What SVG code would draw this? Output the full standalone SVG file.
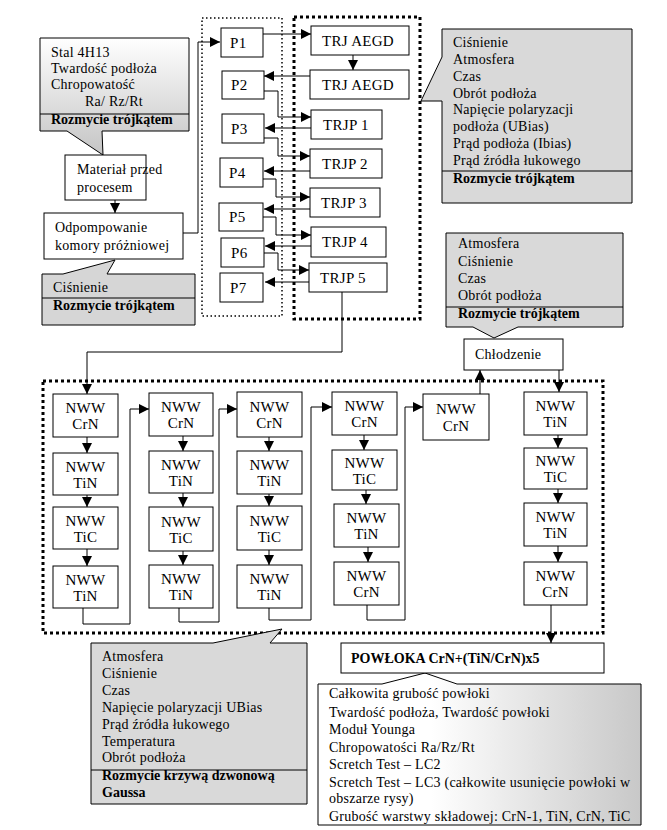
<svg xmlns="http://www.w3.org/2000/svg" width="667" height="830" viewBox="0 0 667 830">
<style>
.t{font-family:"Liberation Serif","Times New Roman",serif;font-size:14px;fill:#000;letter-spacing:0.25px}
.n{font-family:"Liberation Serif","Times New Roman",serif;font-size:15px;fill:#000;letter-spacing:0.3px}
.c{text-anchor:middle}
.b{font-weight:bold;letter-spacing:0}
.box{fill:#fff;stroke:#000;stroke-width:1}
.cl{stroke:#000;stroke-width:1}
.g{fill:#d9d9d9}
.sep{stroke:#000;stroke-width:1;fill:none}
.con{fill:none;stroke:#000;stroke-width:1;marker-end:url(#ah)}
.dotS{fill:none;stroke:#000;stroke-width:1.5;stroke-dasharray:1.5 2.5}
.dotL{fill:none;stroke:#000;stroke-width:3;stroke-dasharray:3 3}
</style>
<defs>
<marker id="ah" markerUnits="userSpaceOnUse" markerWidth="10" markerHeight="10" refX="10" refY="5" orient="auto">
<path d="M0,0 L10,5 L0,10 Z" fill="#000"/>
</marker>
<linearGradient id="gv" x1="0" y1="0" x2="0" y2="1">
<stop offset="0" stop-color="#ffffff"/>
<stop offset="1" stop-color="#c4c4c4"/>
</linearGradient>
<linearGradient id="gh" x1="0" y1="0" x2="1" y2="0">
<stop offset="0.35" stop-color="#ffffff"/>
<stop offset="1" stop-color="#c8c8c8"/>
</linearGradient>
</defs>
<rect width="667" height="830" fill="#fff"/>

<g id="groups">
<rect class="dotS" x="202" y="18" width="80" height="298"/>
<rect class="dotL" x="294" y="17" width="126" height="302"/>
<rect class="dotL" x="43" y="381" width="560" height="252"/>
</g>

<g id="callout-stal">
<path class="cl" fill="url(#gv)" d="M40,38 H189 V131 H102 L103,155 L67,131 H40 Z"/>
<line class="sep" x1="40" y1="114" x2="189" y2="114"/>
<text class="t" x="51" y="57">Stal 4H13</text>
<text class="t" x="51" y="73">Twardość podłoża</text>
<text class="t" x="51" y="89">Chropowatość</text>
<text class="t" x="85" y="106">Ra/ Rz/Rt</text>
<text class="t b" x="51" y="124">Rozmycie trójkątem</text>
</g>
<g id="callout-cisnienie">
<path class="cl" fill="#d6d6d6" d="M42,274 H63 L115,260 L107,274 H195 V325 H42 Z"/>
<line class="sep" x1="42" y1="298" x2="195" y2="298"/>
<text class="t" x="53" y="292">Ciśnienie</text>
<text class="t b" x="53" y="310">Rozmycie trójkątem</text>
</g>
<g id="callout-trj">
<path class="cl g" d="M442,29 H632 V203 H442 V101 L421,101 L442,57 Z"/>
<line class="sep" x1="442" y1="171" x2="632" y2="171"/>
<text class="t" x="453" y="47">Ciśnienie</text>
<text class="t" x="453" y="64">Atmosfera</text>
<text class="t" x="453" y="81">Czas</text>
<text class="t" x="453" y="98">Obrót podłoża</text>
<text class="t" x="453" y="114">Napięcie polaryzacji</text>
<text class="t" x="453" y="131">podłoża (UBias)</text>
<text class="t" x="453" y="148">Prąd podłoża (Ibias)</text>
<text class="t" x="453" y="165">Prąd źródła łukowego</text>
<text class="t b" x="453" y="183">Rozmycie trójkątem</text>
</g>
<g id="callout-chlodzenie">
<path class="cl g" d="M446,233 H623 V327 H518 L494,338 L473,327 H446 Z"/>
<line class="sep" x1="446" y1="307" x2="623" y2="307"/>
<text class="t" x="458" y="248">Atmosfera</text>
<text class="t" x="458" y="266">Ciśnienie</text>
<text class="t" x="458" y="283">Czas</text>
<text class="t" x="458" y="300">Obrót podłoża</text>
<text class="t b" x="458" y="318">Rozmycie trójkątem</text>
</g>
<g id="callout-nww">
<path class="cl g" d="M91,643 H213 L282,629 L270,643 H307 V804 H91 Z"/>
<line class="sep" x1="91" y1="770" x2="307" y2="770"/>
<text class="t" x="102" y="661">Atmosfera</text>
<text class="t" x="102" y="678">Ciśnienie</text>
<text class="t" x="102" y="695">Czas</text>
<text class="t" x="102" y="712">Napięcie polaryzacji UBias</text>
<text class="t" x="102" y="729">Prąd źródła łukowego</text>
<text class="t" x="102" y="746">Temperatura</text>
<text class="t" x="102" y="762">Obrót podłoża</text>
<text class="t b" x="102" y="780">Rozmycie krzywą dzwonową</text>
<text class="t b" x="102" y="797">Gaussa</text>
</g>
<g id="callout-powloka">
<path class="cl" fill="url(#gh)" d="M318,684 H382 L425,673 L457,684 H641 V825 H318 Z"/>
<text class="t" x="329" y="698">Całkowita grubość powłoki</text>
<text class="t" x="329" y="717">Twardość podłoża, Twardość powłoki</text>
<text class="t" x="329" y="734">Moduł Younga</text>
<text class="t" x="329" y="752">Chropowatości Ra/Rz/Rt</text>
<text class="t" x="329" y="769">Scretch Test – LC2</text>
<text class="t" x="329" y="787">Scretch Test – LC3 (całkowite usunięcie powłoki w</text>
<text class="t" x="329" y="803">obszarze rysy)</text>
<text class="t" x="329" y="821">Grubość warstwy składowej: CrN-1, TiN, CrN, TiC</text>
</g>

<g id="material"><rect class="box" x="65" y="155" width="81" height="45"/>
<text class="t" x="77" y="174">Materiał przed</text><text class="t" x="77" y="192">procesem</text></g>
<g id="odpompowanie"><rect class="box" x="44" y="213" width="139" height="46"/>
<text class="t" x="55" y="232">Odpompowanie</text><text class="t" x="55" y="250">komory próżniowej</text></g>

<g id="p1"><rect class="box" x="221" y="28" width="42" height="29"/><text class="n" x="230" y="48">P1</text></g>
<g id="p2"><rect class="box" x="222" y="71" width="42" height="28"/><text class="n" x="231" y="90">P2</text></g>
<g id="p3"><rect class="box" x="222" y="114" width="42" height="29"/><text class="n" x="231" y="134">P3</text></g>
<g id="p4"><rect class="box" x="220" y="158" width="43" height="29"/><text class="n" x="229" y="178">P4</text></g>
<g id="p5"><rect class="box" x="219" y="203" width="44" height="28"/><text class="n" x="229" y="222">P5</text></g>
<g id="p6"><rect class="box" x="221" y="238" width="43" height="29"/><text class="n" x="231" y="258">P6</text></g>
<g id="p7"><rect class="box" x="220" y="273" width="43" height="29"/><text class="n" x="230" y="293">P7</text></g>

<g id="trj1"><rect class="box" x="311" y="26" width="98" height="29"/><text class="n" x="322" y="46">TRJ AEGD</text></g>
<g id="trj2"><rect class="box" x="310" y="70" width="99" height="29"/><text class="n" x="322" y="90">TRJ AEGD</text></g>
<g id="trjp1"><rect class="box" x="311" y="110" width="71" height="29"/><text class="n" x="323" y="130">TRJP 1</text></g>
<g id="trjp2"><rect class="box" x="310" y="149" width="72" height="29"/><text class="n" x="322" y="169">TRJP 2</text></g>
<g id="trjp3"><rect class="box" x="310" y="188" width="70" height="29"/><text class="n" x="321" y="208">TRJP 3</text></g>
<g id="trjp4"><rect class="box" x="311" y="227" width="75" height="30"/><text class="n" x="322" y="247">TRJP 4</text></g>
<g id="trjp5"><rect class="box" x="309" y="263" width="78" height="29"/><text class="n" x="320" y="283">TRJP 5</text></g>

<g id="c1a"><rect class="box" x="53" y="394" width="65" height="43"/><text class="n c" x="85.5" y="413">NWW</text><text class="n c" x="85.5" y="429">CrN</text></g>
<g id="c1b"><rect class="box" x="53" y="453" width="65" height="42"/><text class="n c" x="85.5" y="472">NWW</text><text class="n c" x="85.5" y="488">TiN</text></g>
<g id="c1c"><rect class="box" x="53" y="507" width="65" height="42"/><text class="n c" x="85.5" y="526">NWW</text><text class="n c" x="85.5" y="542">TiC</text></g>
<g id="c1d"><rect class="box" x="53" y="566" width="65" height="42"/><text class="n c" x="85.5" y="585">NWW</text><text class="n c" x="85.5" y="601">TiN</text></g>
<g id="c2a"><rect class="box" x="149" y="393" width="64" height="43"/><text class="n c" x="181" y="412">NWW</text><text class="n c" x="181" y="428">CrN</text></g>
<g id="c2b"><rect class="box" x="149" y="451" width="64" height="42"/><text class="n c" x="181" y="470">NWW</text><text class="n c" x="181" y="486">TiN</text></g>
<g id="c2c"><rect class="box" x="149" y="507" width="64" height="44"/><text class="n c" x="181" y="527">NWW</text><text class="n c" x="181" y="543">TiC</text></g>
<g id="c2d"><rect class="box" x="149" y="565" width="64" height="43"/><text class="n c" x="181" y="584">NWW</text><text class="n c" x="181" y="600">TiN</text></g>
<g id="c3a"><rect class="box" x="237" y="392" width="65" height="45"/><text class="n c" x="269.5" y="412">NWW</text><text class="n c" x="269.5" y="428">CrN</text></g>
<g id="c3b"><rect class="box" x="237" y="451" width="65" height="43"/><text class="n c" x="269.5" y="470">NWW</text><text class="n c" x="269.5" y="486">TiN</text></g>
<g id="c3c"><rect class="box" x="237" y="506" width="65" height="44"/><text class="n c" x="269.5" y="526">NWW</text><text class="n c" x="269.5" y="542">TiC</text></g>
<g id="c3d"><rect class="box" x="237" y="565" width="65" height="43"/><text class="n c" x="269.5" y="584">NWW</text><text class="n c" x="269.5" y="600">TiN</text></g>
<g id="c4a"><rect class="box" x="332" y="392" width="65" height="43"/><text class="n c" x="364.5" y="411">NWW</text><text class="n c" x="364.5" y="427">CrN</text></g>
<g id="c4b"><rect class="box" x="332" y="450" width="65" height="40"/><text class="n c" x="364.5" y="468">NWW</text><text class="n c" x="364.5" y="484">TiC</text></g>
<g id="c4c"><rect class="box" x="334" y="504" width="65" height="43"/><text class="n c" x="366.5" y="523">NWW</text><text class="n c" x="366.5" y="539">TiN</text></g>
<g id="c4d"><rect class="box" x="334" y="562" width="65" height="43"/><text class="n c" x="366.5" y="581">NWW</text><text class="n c" x="366.5" y="597">CrN</text></g>
<g id="c5a"><rect class="box" x="423" y="394" width="66" height="46"/><text class="n c" x="456" y="414">NWW</text><text class="n c" x="456" y="431">CrN</text></g>
<g id="c6a"><rect class="box" x="524" y="392" width="63" height="43"/><text class="n c" x="555.5" y="411">NWW</text><text class="n c" x="555.5" y="427">TiN</text></g>
<g id="c6b"><rect class="box" x="524" y="448" width="63" height="41"/><text class="n c" x="555.5" y="466">NWW</text><text class="n c" x="555.5" y="482">TiC</text></g>
<g id="c6c"><rect class="box" x="524" y="503" width="63" height="43"/><text class="n c" x="555.5" y="522">NWW</text><text class="n c" x="555.5" y="538">TiN</text></g>
<g id="c6d"><rect class="box" x="524" y="562" width="63" height="43"/><text class="n c" x="555.5" y="581">NWW</text><text class="n c" x="555.5" y="597">CrN</text></g>

<g id="chlodzenie"><rect class="box" x="464" y="339" width="99" height="31"/><text class="t" x="475" y="359">Chłodzenie</text></g>
<g id="powloka"><rect class="box" x="341" y="643" width="263" height="30"/><text class="t b" x="351" y="663">POWŁOKA CrN+(TiN/CrN)x5</text></g>

<g id="connectors">
<path class="con" d="M115,200 V213"/>
<path class="con" d="M183,233 H198 V42 H220"/>
<path class="con" d="M263,34 H311"/>
<path class="con" d="M353,55 V70"/>
<path class="con" d="M310,76 H264"/>
<path class="con" d="M264,91 H278 V117 H311"/>
<path class="con" d="M311,128 H265"/>
<path class="con" d="M264,138 H278 V156 H310"/>
<path class="con" d="M310,171 H264"/>
<path class="con" d="M263,179 H276 V197 H310"/>
<path class="con" d="M310,209 H264"/>
<path class="con" d="M263,217 H276 V235 H311"/>
<path class="con" d="M311,246 H265"/>
<path class="con" d="M264,253 H278 V270 H309"/>
<path class="con" d="M309,282 H265"/>
<path class="con" d="M342,292 V352 H87 V394"/>
<path class="con" d="M87,437 V453"/>
<path class="con" d="M87,495 V507"/>
<path class="con" d="M87,549 V566"/>
<path class="con" d="M83,608 V624 H130 V409 H149"/>
<path class="con" d="M183,436 V451"/>
<path class="con" d="M183,493 V507"/>
<path class="con" d="M183,551 V565"/>
<path class="con" d="M179,608 V622 H219 V409 H237"/>
<path class="con" d="M269,437 V451"/>
<path class="con" d="M269,494 V506"/>
<path class="con" d="M269,550 V565"/>
<path class="con" d="M269,608 V620 H311 V407 H332"/>
<path class="con" d="M364,435 V450"/>
<path class="con" d="M366,490 V504"/>
<path class="con" d="M368,547 V562"/>
<path class="con" d="M367,605 V620 H405 V407 H423"/>
<path class="con" d="M480,394 V370"/>
<path class="con" d="M559,370 V392"/>
<path class="con" d="M558,435 V448"/>
<path class="con" d="M558,489 V503"/>
<path class="con" d="M558,546 V562"/>
<path class="con" d="M551,605 V643"/>
</g>
</svg>
